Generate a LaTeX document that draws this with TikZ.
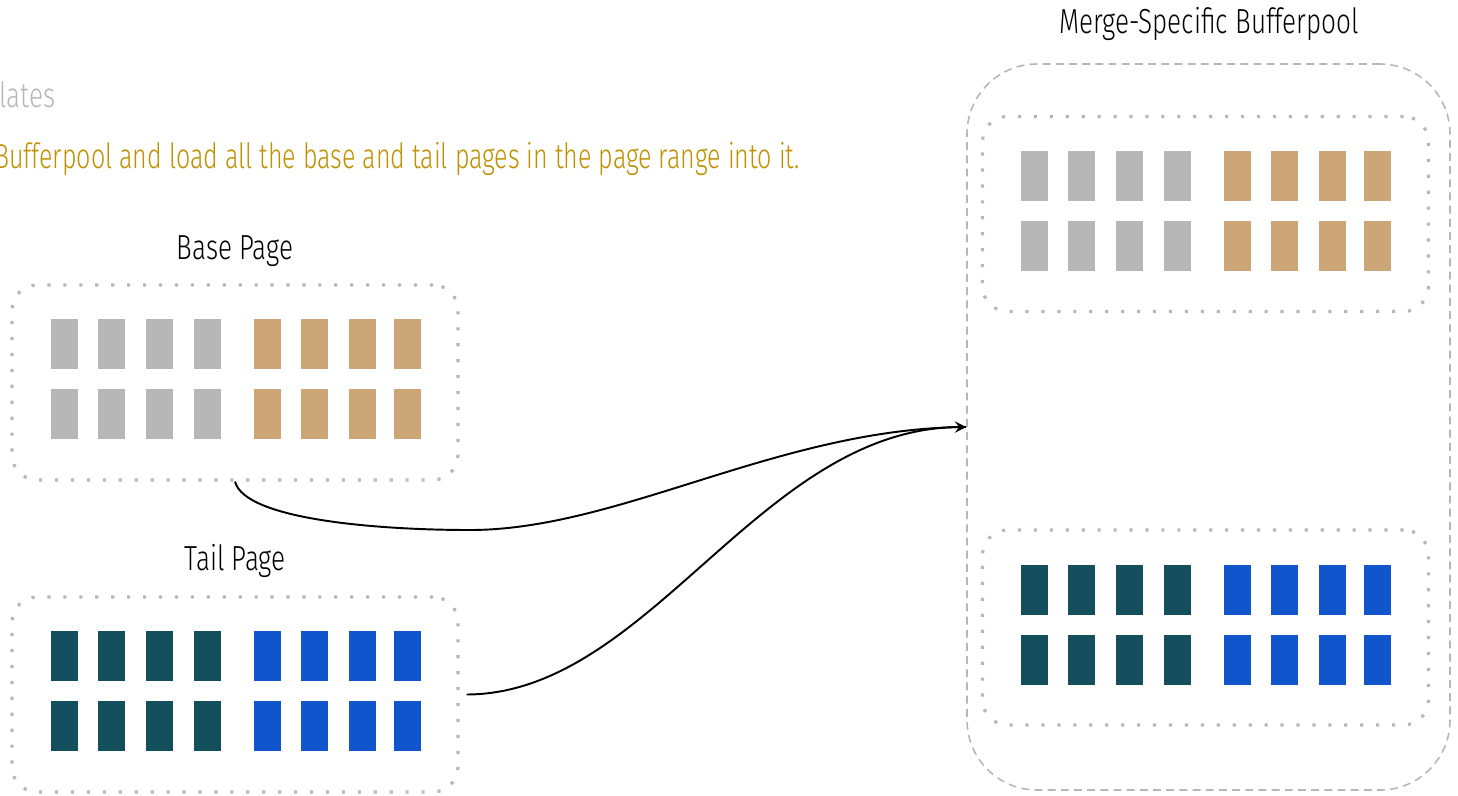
\documentclass[tikz,border=0pt]{standalone}
\usepackage{fontspec}
\setmainfont{Fira Sans Light}[FakeStretch=0.75]
\usetikzlibrary{arrows.meta}
\definecolor{blkgray}{HTML}{B7B7B7}
\definecolor{blktan}{HTML}{CCA677}
\definecolor{blkteal}{HTML}{134F5C}
\definecolor{blkblue}{HTML}{1155CC}
\definecolor{goldtxt}{HTML}{BF9000}
\definecolor{boxline}{HTML}{B7B7B7}
\begin{document}
\begin{tikzpicture}[x=0.02cm,y=-0.02cm,
  txt/.style={inner sep=0pt, anchor=base, font=\fontsize{19.8}{24}\selectfont},
  dotbox/.style={draw=boxline, line width=1.8pt, dash pattern=on 1.8pt off 7.27pt,
    rounded corners=0.5cm, minimum width={446*0.02cm}, minimum height={195*0.02cm}, inner sep=0pt},
  outerbox/.style={draw=boxline, line width=0.9pt, dash pattern=on 4.5pt off 3pt,
    rounded corners=1.4cm, minimum width={483*0.02cm}, minimum height={726*0.02cm}, inner sep=0pt},
  conn/.style={line width=1.1pt, -{Stealth[length=6.5pt,width=6.5pt,inset=2.5pt]}},
  connplain/.style={line width=1.1pt}]
\useasboundingbox (0,0) rectangle (1458,795);

% grid of page blocks: #1 left x, #2 top y, #3 left colour, #4 right colour
\newcommand{\pageblocks}[4]{%
  \foreach \dx in {39,86,134,182}{
    \foreach \dy in {34,104}{
      \fill[#3] ({#1+\dx},{#2+\dy}) rectangle ++(27,50);}}
  \foreach \dx in {242,289,337,382}{
    \foreach \dy in {34,104}{
      \fill[#4] ({#1+\dx},{#2+\dy}) rectangle ++(27,50);}}
}

% texts
\node[txt, anchor=base west, text=blkgray] (t1) at (-1,107) {lates};
\node[txt, anchor=base east, text=goldtxt] (t2) at (800,168) {\scalebox{0.96}[1]{Bufferpool and load all the base and tail pages in the page range into it.}};
\node[txt] (tbase) at (235,259) {Base Page};
\node[txt] (ttail) at (235,570) {Tail Page};
\node[txt] (tmerge) at (1209,33) {Merge-Specific Bufferpool};

% boxes
\node[dotbox] (base) at (235,382.5) {};
\node[dotbox] (tail) at (235,694.5) {};
\node[outerbox] (merge) at (1208.5,427) {};
\node[dotbox] (mtop) at (1205.5,214) {};
\node[dotbox] (mbot) at (1205.5,627.5) {};

\pageblocks{12}{285}{blkgray}{blktan}
\pageblocks{12}{597}{blkteal}{blkblue}
\pageblocks{982}{117}{blkgray}{blktan}
\pageblocks{982}{531}{blkteal}{blkblue}

% connectors
\coordinate (tailout) at ([xshift=0.14cm]tail.east);
\draw[connplain] (base.south) .. controls (245,520) and (380,530) .. (470,530)
  .. controls (620,530) and (780,428) .. (merge.west);
\draw[conn] (tailout) .. controls (650,694) and (760,428) .. (merge.west);
\end{tikzpicture}
\end{document}
